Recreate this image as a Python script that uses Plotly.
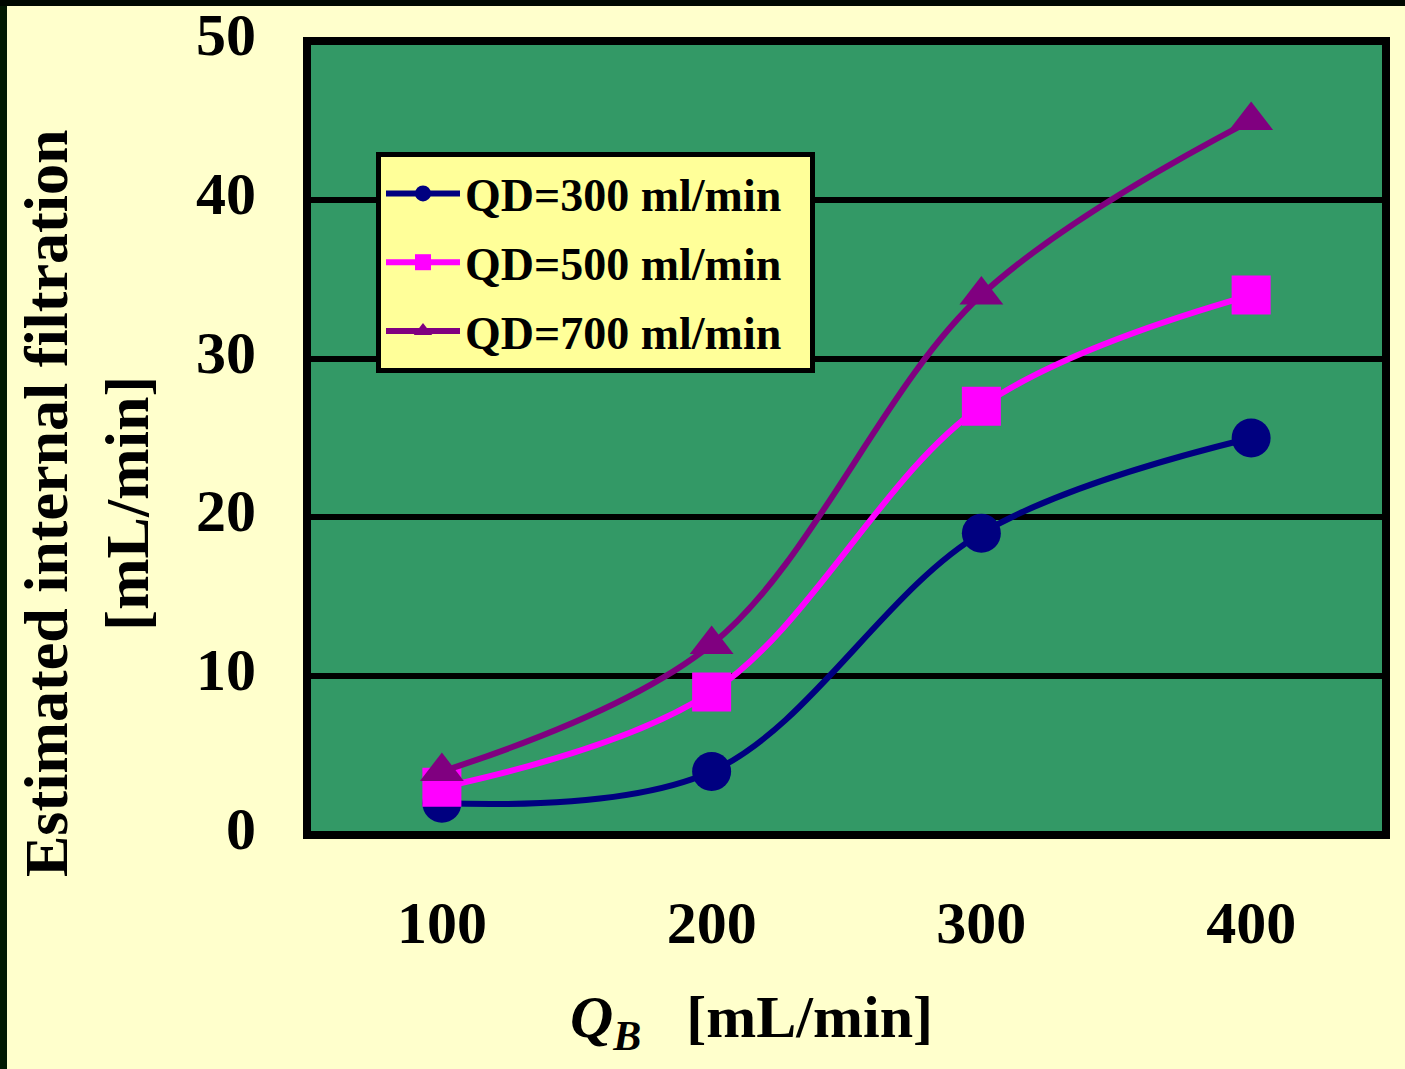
import plotly.graph_objects as go

qb = [100, 200, 300, 400]
qd300 = [2.0, 4.0, 19.0, 25.0]
qd500 = [3.0, 9.0, 27.0, 34.0]
qd700 = [4.0, 12.0, 34.0, 45.0]
series_names = ["QD=300 ml/min", "QD=500 ml/min", "QD=700 ml/min"]
y_ticks = [0, 10, 20, 30, 40, 50]
x_ticks = [100, 200, 300, 400]

FONT = "Liberation Serif, Times New Roman, serif"

fig = go.Figure()
styles = [
    (qd300, "#000080", "circle", 39),
    (qd500, "#FF00FF", "square", 39),
    (qd700, "#800080", "triangle-up", 38),
]
for i, (name, (vals, col, sym, sz)) in enumerate(zip(series_names, styles)):
    fig.add_trace(go.Scatter(
        x=qb, y=vals, name=name + "&nbsp;&nbsp;", mode="lines+markers",
        legendgroup=f"g{i}",
        line=dict(color=col, width=6, shape="spline", smoothing=1),
        marker=dict(color=col, symbol=sym, size=sz, line=dict(width=0)),
    ))

L, R, T, B = 307, 19, 41, 234
W, H = 1405, 1069
pw = W - L - R
ph = H - T - B

def px_x(p):
    return (p - L) / pw

def px_y(p):
    return (H - B - p) / ph

fig.update_layout(
    width=W, height=H,
    margin=dict(l=L, r=R, t=T, b=B, pad=0, autoexpand=False),
    paper_bgcolor="#FFFFCC",
    plot_bgcolor="#339966",
    font=dict(family=FONT, color="black"),
    showlegend=True,
    legend=dict(
        x=px_x(376), y=px_y(152), xanchor="left", yanchor="top",
        bgcolor="#FFFF99", bordercolor="black", borderwidth=5,
        font=dict(family=FONT, size=46, color="black", weight="bold"),
        itemsizing="trace", itemwidth=74, tracegroupgap=6,
    ),
    xaxis=dict(
        range=[50, 450], tickvals=x_ticks, ticktext=[str(v) for v in x_ticks],
        showgrid=False, zeroline=False, showline=False, ticks="",
        tickfont=dict(family=FONT, size=60, color="black", weight="bold"),
        ticklabelstandoff=47, automargin=False,
    ),
    yaxis=dict(
        range=[0, 50], tickvals=y_ticks, ticktext=[str(v) for v in y_ticks],
        showgrid=True, gridcolor="black", gridwidth=6, zeroline=False,
        showline=False, ticks="",
        tickfont=dict(family=FONT, size=60, color="black", weight="bold"),
        ticklabelstandoff=50, ticklabelshift=-7, automargin=False,
    ),
    shapes=[
        dict(type="rect", xref="paper", yref="paper", x0=0, x1=1, y0=0, y1=1,
             line=dict(color="black", width=8), fillcolor="rgba(0,0,0,0)", layer="above"),
        dict(type="rect", xref="paper", yref="paper", x0=px_x(0), x1=px_x(7),
             y0=px_y(H), y1=px_y(0), line=dict(width=0), fillcolor="#021a02"),
        dict(type="rect", xref="paper", yref="paper", x0=px_x(0), x1=px_x(W),
             y0=px_y(6), y1=px_y(0), line=dict(width=0), fillcolor="#000800"),
    ],
    annotations=[
        dict(text="Estimated internal filtration<br>[mL/min]", textangle=-90,
             xref="paper", yref="paper", x=px_x(87), y=px_y(504),
             xanchor="center", yanchor="middle", showarrow=False,
             font=dict(family=FONT, size=62, color="black", weight="bold")),
        dict(text="<i>Q<sub>B</sub></i>&nbsp;&nbsp;&nbsp;[mL/min]",
             xref="paper", yref="paper", x=px_x(751), y=px_y(1021),
             xanchor="center", yanchor="middle", showarrow=False,
             font=dict(family=FONT, size=60, color="black", weight="bold")),
    ],
)

fig.write_html("out.html")
